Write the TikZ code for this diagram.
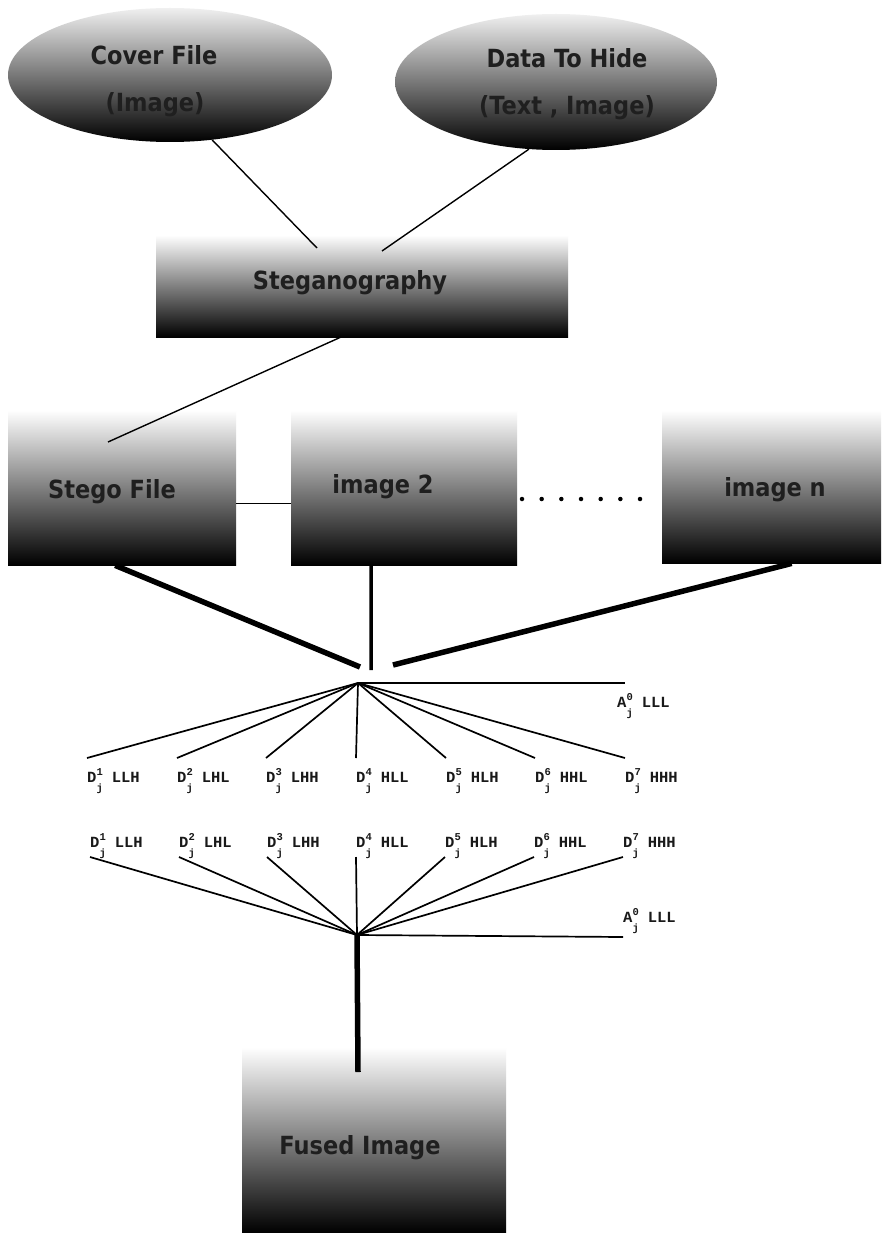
\documentclass[tikz,border=0pt]{standalone}
\usepackage{fontspec}
\setmainfont{DejaVu Sans Condensed}
\setmonofont{Liberation Mono}
\usetikzlibrary{shapes.geometric,calc}
\newcommand{\wlab}[3]{#1\makebox[0pt][l]{\raisebox{7pt}{\fontsize{10.5}{10.5}\selectfont #2}}\raisebox{-9.5pt}{\fontsize{10.5}{10.5}\selectfont j}\hspace{9pt}#3}
\begin{document}
\begin{tikzpicture}[x=1pt,y=-1pt,
  box/.style={rectangle, draw=none, inner sep=0pt, top color=white, bottom color=black, anchor=north west},
  oval/.style={ellipse, draw=none, inner sep=0pt, top color=black!6, bottom color=black},
  big/.style={font=\fontsize{25}{25}\selectfont\bfseries, text=black!88, inner sep=0pt},
  thinline/.style={line width=1.4pt},
  fanline/.style={line width=1.7pt},
  heavy/.style={line width=5.5pt},
  wav/.style={font=\fontsize{15.5}{15.5}\selectfont\ttfamily\bfseries, text=black!90, anchor=base west, inner sep=0pt}
]
\fill[white] (0,0) rectangle (881,1233);
\useasboundingbox (0,0) rectangle (881,1233);

% shapes
\node[oval, minimum width=324pt, minimum height=134pt] (cover) at (170,75) {};
\node[oval, minimum width=322pt, minimum height=136pt] (data) at (556,82) {};
\node[box, minimum width=412pt, minimum height=102pt] (steg) at (156,235) {};
\node[box, minimum width=228pt, minimum height=155pt] (stego) at (8,410) {};
\node[box, minimum width=226pt, minimum height=155pt] (img2) at (291,410) {};
\node[box, minimum width=219pt, minimum height=153pt] (imgn) at (662,410) {};
\node[box, minimum width=264pt, minimum height=186pt] (fused) at (242,1047) {};

% coordinates
\coordinate (sIn1) at (317,248);
\coordinate (sIn2) at (382,251);
\coordinate (stIn) at (108,442);
\coordinate (t1) at (360,667);
\coordinate (t2) at (371,670);
\coordinate (t3) at (393,665);
\coordinate (apA) at (358,683);
\coordinate (apB) at (357,935);
\coordinate (hA) at (625,683);
\coordinate (hB) at (623,937);
\coordinate (fIn) at (358,1072);
\coordinate (dotL) at (522,499);
\coordinate (dotR) at (641,499);
\foreach \i/\x in {1/87,2/177,3/266,4/356,5/446,6/535,7/625}{
  \coordinate (u\i) at (\x,758);
}
\foreach \i/\x in {1/90,2/179,3/267,4/356,5/445,6/534,7/623}{
  \coordinate (l\i) at (\x,857);
}

% connectors
\draw[thinline] (cover.-57) -- (sIn1);
\draw[thinline] (data.-112) -- (sIn2);
\draw[thinline] ($(steg.south)+(-22,0)$) -- (stIn);
\draw[thinline] ($(stego.east)+(0,15.5)$) -- ($(img2.west)+(0,15.5)$);
\draw[line width=4.5pt, line cap=round, dash pattern=on 0pt off 19.67pt] (dotL) -- (dotR);
\draw[heavy] ($(stego.south)+(-7,0)$) -- (t1);
\draw[line width=3.5pt] ($(img2.south)+(-33,0)$) -- (t2);
\draw[heavy] ($(imgn.south)+(20,0)$) -- (t3);
\foreach \i in {1,...,7}{
  \draw[fanline] (apA) -- (u\i);
  \draw[fanline] (apB) -- (l\i);
}
\draw[fanline] (apA) -- (hA);
\draw[fanline] (apB) -- (hB);
\draw[heavy] (apB) -- (fIn);

% texts
\node[big] (tcover) at (154,55) {Cover File};
\node[big] (tcover2) at (155,105) {(Image)};
\node[big] (tdata) at (567,58) {Data To Hide};
\node[big] (tdata2) at (567,108) {(Text , Image)};
\node[big] (tsteg) at (350,283) {Steganography};
\node[big] (tstego) at (112,492) {Stego File};
\node[big] (timg2) at (383,487) {image 2};
\node[big] (timgn) at (775,490) {image n};
\node[big] (tfused) at (360,1148) {Fused Image};

% wavelet labels
\node[wav] (aA) at (617,707) {\wlab{A}{0}{LLL}};
\node[wav] (aB) at (623,922) {\wlab{A}{0}{LLL}};
\foreach \i/\x/\s in {1/87/LLH,2/177/LHL,3/266/LHH,4/356/HLL,5/446/HLH,6/535/HHL,7/625/HHH}{
  \node[wav] (dA\i) at (\x,782) {\wlab{D}{\i}{\s}};
}
\foreach \i/\x/\s in {1/90/LLH,2/179/LHL,3/267/LHH,4/356/HLL,5/445/HLH,6/534/HHL,7/623/HHH}{
  \node[wav] (dB\i) at (\x,847) {\wlab{D}{\i}{\s}};
}
\end{tikzpicture}
\end{document}
